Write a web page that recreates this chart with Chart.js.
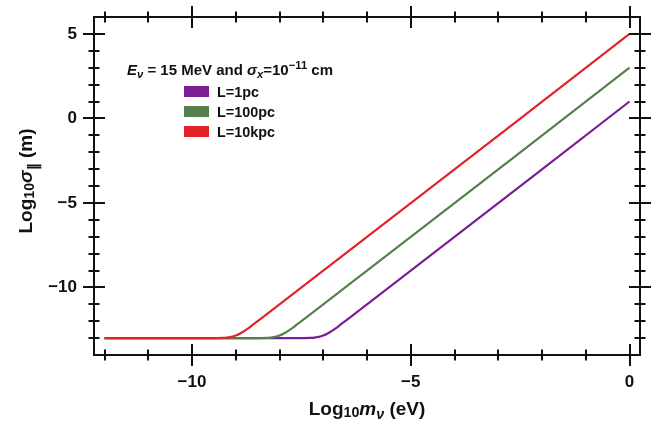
<!DOCTYPE html>
<html>
<head>
<meta charset="utf-8">
<script src="https://cdn.jsdelivr.net/npm/chart.js@4.4.1/dist/chart.umd.min.js"></script>
<style>
  html, body { margin: 0; padding: 0; background: #fff; }
  #wrap { width: 662px; height: 429px; }
</style>
</head>
<body>
<div id="wrap"><canvas id="sigmaChart" width="662" height="429"></canvas></div>
<script>
// log10(m_nu / eV) and log10(sigma_par / m)
const xPurple = [-12, -7.6, -7.3, -7.2, -7.1, -7.0, -6.9, -6.8, -6.7, -6.6, -6.4, 0];
const yPurple = [-13, -13, -12.99, -12.97, -12.93, -12.85, -12.73, -12.57, -12.39, -12.19, -11.8, 1];
const xGreen = [-12, -8.6, -8.3, -8.2, -8.1, -8.0, -7.9, -7.8, -7.7, -7.6, -7.4, 0];
const yGreen = [-13, -13, -12.99, -12.97, -12.93, -12.85, -12.73, -12.57, -12.39, -12.19, -11.8, 3];
const xRed = [-12, -9.6, -9.3, -9.2, -9.1, -9.0, -8.9, -8.8, -8.7, -8.6, -8.4, 0];
const yRed = [-13, -13, -12.99, -12.97, -12.93, -12.85, -12.73, -12.57, -12.39, -12.19, -11.8, 5];

const seriesLabels = ['L=1pc', 'L=100pc', 'L=10kpc'];
const seriesColors = ['#7b1d93', '#55804d', '#e2242a'];

const xTicks = [-10, -5, 0];
const yTicks = [-10, -5, 0, 5];

const FONT = '"Liberation Sans", Arial, sans-serif';

function pts(xs, ys) {
    return xs.map((x, i) => ({ x: x, y: ys[i] }));
}

// frame plus ticks crossing the axis on all four sides
const frameTicks = {
    id: 'frameTicks',
    afterDatasetsDraw(chart) {
        const { ctx, chartArea: a, scales } = chart;
        const xs = scales.x, ys = scales.y;
        ctx.save();
        ctx.strokeStyle = '#111';
        ctx.lineWidth = 2;
        ctx.strokeRect(a.left, a.top, a.right - a.left, a.bottom - a.top);
        ctx.beginPath();
        for (let v = Math.ceil(xs.min); v <= xs.max; v++) {
            const px = Math.round(xs.getPixelForValue(v));
            const len = (v % 5 === 0) ? 11 : 5.5;
            ctx.moveTo(px, a.bottom - len); ctx.lineTo(px, a.bottom + len);
            ctx.moveTo(px, a.top - len); ctx.lineTo(px, a.top + len);
        }
        for (let v = Math.ceil(ys.min) + 1; v < ys.max; v++) {
            const py = Math.round(ys.getPixelForValue(v));
            const len = (v % 5 === 0) ? 11 : 5.5;
            ctx.moveTo(a.left - len, py); ctx.lineTo(a.left + len, py);
            ctx.moveTo(a.right - len, py); ctx.lineTo(a.right + len, py);
        }
        ctx.stroke();
        ctx.restore();
    }
};

// draw pieces of text with sub/superscripts, returns end x
function drawRich(ctx, parts, x, y, size) {
    parts.forEach(p => {
        const s = p.small ? size * 0.75 : size;
        ctx.font = (p.italic ? 'italic ' : '') + 'bold ' + s + 'px ' + FONT;
        const dy = p.sub ? size * (p.subShift || 0.2) : (p.sup ? -size * 0.4 : 0);
        ctx.fillText(p.t, x, y + dy);
        x += ctx.measureText(p.t).width;
    });
    return x;
}

function richWidth(ctx, parts, size) {
    let w = 0;
    parts.forEach(p => {
        const s = p.small ? size * 0.75 : size;
        ctx.font = (p.italic ? 'italic ' : '') + 'bold ' + s + 'px ' + FONT;
        w += ctx.measureText(p.t).width;
    });
    return w;
}

const labelsAndLegend = {
    id: 'labelsAndLegend',
    afterDraw(chart) {
        const { ctx, chartArea: a } = chart;
        ctx.save();
        ctx.fillStyle = '#111';
        ctx.textBaseline = 'alphabetic';
        ctx.textAlign = 'left';

        // x axis title
        const xParts = [
            { t: 'Log' }, { t: '10', small: true, sub: true, subShift: 0.12 },
            { t: 'm', italic: true }, { t: 'ν', italic: true, small: true, sub: true },
            { t: ' (eV)' }
        ];
        const xw = richWidth(ctx, xParts, 19);
        drawRich(ctx, xParts, (a.left + a.right) / 2 - xw / 2, 415, 19);

        // y axis title
        const yParts = [
            { t: 'Log' }, { t: '10', small: true, sub: true, subShift: 0.12 },
            { t: 'σ', italic: true }, { t: '∥', small: true, sub: true, subShift: 0.3 },
            { t: ' (m)' }
        ];
        const yw = richWidth(ctx, yParts, 19);
        ctx.save();
        ctx.translate(32, 181);
        ctx.rotate(-Math.PI / 2);
        drawRich(ctx, yParts, -yw / 2, 0, 19);
        ctx.restore();

        // legend title
        drawRich(ctx, [
            { t: 'E', italic: true }, { t: 'ν', italic: true, small: true, sub: true },
            { t: ' = 15 MeV and ' },
            { t: 'σ', italic: true }, { t: 'x', italic: true, small: true, sub: true },
            { t: '=10' }, { t: '−11', small: true, sup: true }, { t: ' cm' }
        ], 127, 75, 15);

        // legend entries
        seriesLabels.forEach((lab, i) => {
            const y = 86 + i * 20;
            ctx.fillStyle = seriesColors[i];
            ctx.fillRect(184, y, 25, 11);
            ctx.fillStyle = '#111';
            ctx.font = 'bold 14.4px ' + FONT;
            ctx.fillText(lab, 217, y + 10.5);
        });
        ctx.restore();
    }
};

const fmt = v => (v < 0 ? '\u2212' + Math.abs(v) : String(v));

new Chart(document.getElementById('sigmaChart').getContext('2d'), {
    type: 'line',
    data: {
        datasets: [
            { label: seriesLabels[0], data: pts(xPurple, yPurple), borderColor: seriesColors[0], order: 3 },
            { label: seriesLabels[1], data: pts(xGreen, yGreen), borderColor: seriesColors[1], order: 2 },
            { label: seriesLabels[2], data: pts(xRed, yRed), borderColor: seriesColors[2], order: 1 }
        ]
    },
    options: {
        responsive: false,
        animation: false,
        layout: { padding: { left: 0, top: 17, right: 22, bottom: 0 } },
        elements: {
            line: { borderWidth: 2.2, cubicInterpolationMode: 'monotone', fill: false },
            point: { radius: 0 }
        },
        plugins: {
            legend: { display: false },
            tooltip: { enabled: false }
        },
        scales: {
            x: {
                type: 'linear',
                min: -12.24,
                max: 0.24,
                grid: { display: false, drawTicks: false },
                border: { display: false },
                afterBuildTicks: s => { s.ticks = xTicks.map(v => ({ value: v })); },
                afterFit: s => { s.height = 74; s.paddingLeft = 0; s.paddingRight = 0; },
                ticks: {
                    padding: 17,
                    color: '#111',
                    font: { family: FONT, size: 17, weight: 'bold' },
                    callback: fmt
                }
            },
            y: {
                type: 'linear',
                min: -14,
                max: 6,
                grid: { display: false, drawTicks: false },
                border: { display: false },
                afterBuildTicks: s => { s.ticks = yTicks.map(v => ({ value: v })); },
                afterFit: s => { s.width = 94; s.paddingTop = 0; s.paddingBottom = 0; },
                ticks: {
                    padding: 17,
                    color: '#111',
                    font: { family: FONT, size: 17, weight: 'bold' },
                    callback: fmt
                }
            }
        }
    },
    plugins: [frameTicks, labelsAndLegend]
});
</script>
</body>
</html>
